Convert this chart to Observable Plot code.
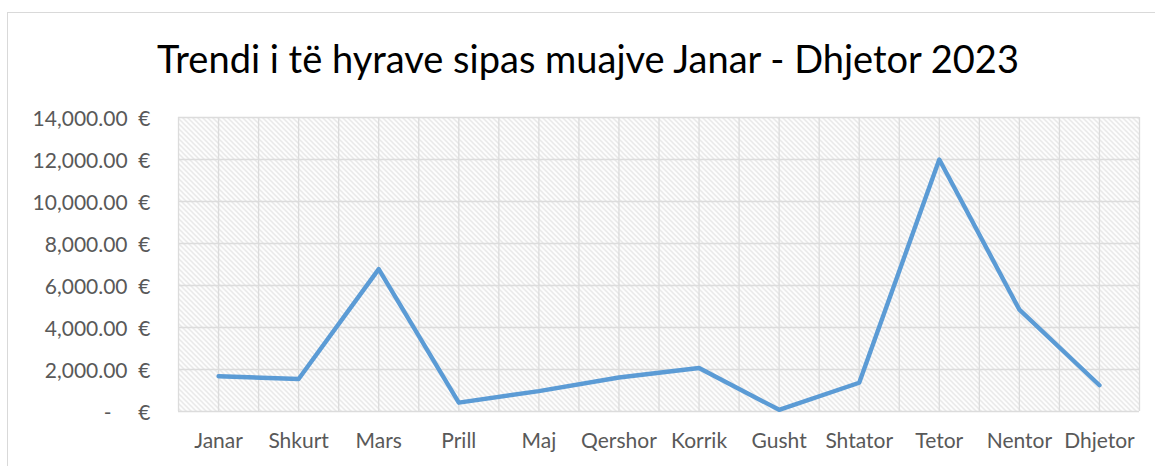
<!DOCTYPE html>
<html>
<head>
<meta charset="utf-8">
<script src="https://cdn.jsdelivr.net/npm/d3@7"></script>
<script src="https://cdn.jsdelivr.net/npm/@observablehq/plot@0.6"></script>
<style>
  html, body { margin: 0; padding: 0; background: #fff; }
  #wrap { position: relative; width: 1155px; height: 466px; overflow: hidden; background: #fff; }
  #frameL { position: absolute; left: 7px; top: 12px; width: 0; height: 480px; border-left: 1.5px solid #d9d9d9; }
  #frameT { position: absolute; left: 7px; top: 12px; width: 1200px; height: 0; border-top: 1.5px solid #d9d9d9; }
  #title { position: absolute; left: 0; top: 33px; width: 1176px; text-align: center;
           font-family: Lato, sans-serif; font-size: 38px; color: #000; line-height: 50px; }
  #chart { position: absolute; left: 0; top: 95px; }
</style>
</head>
<body>
<div id="wrap">
  <div id="frameL"></div>
  <div id="frameT"></div>
  <div id="title">Trendi i të hyrave sipas muajve Janar - Dhjetor 2023</div>
  <div id="chart"></div>
</div>
<script>
const months = ["Janar","Shkurt","Mars","Prill","Maj","Qershor","Korrik","Gusht","Shtator","Tetor","Nentor","Dhjetor"];
const revenue = [1680, 1550, 6780, 420, 970, 1620, 2070, 80, 1370, 12000, 4850, 1250];
const yTicks = [0, 2000, 4000, 6000, 8000, 10000, 12000, 14000];

const data = months.map((m, i) => ({i, month: m, value: revenue[i]}));
const xGrid = d3.range(-0.5, months.length, 0.5);

const fmt = v => v === 0
  ? "-\u00a0\u00a0\u00a0\u00a0\u00a0€"
  : d3.format(",.2f")(v) + "\u00a0\u00a0€";

const plot = Plot.plot({
  width: 1155,
  height: 371,
  marginTop: 22,
  marginBottom: 55,
  marginLeft: 178,
  marginRight: 16,
  style: {fontFamily: "Lato, sans-serif", fontSize: "21px", color: "#595959", background: "transparent"},
  x: {type: "linear", domain: [-0.5, months.length - 0.5], axis: null, label: null},
  y: {domain: [0, 14000], axis: null, label: null},
  marks: [
    Plot.frame({fill: "url(#hatch)", stroke: null}),
    Plot.ruleX(xGrid, {x: d => d, stroke: "#dcdcdc", strokeWidth: 1.3}),
    Plot.ruleY(yTicks, {y: d => d, stroke: "#dcdcdc", strokeWidth: 1.3}),
    Plot.axisY(yTicks, {tickSize: 0, tickPadding: 28, tickFormat: fmt, fontSize: 21, fill: "#595959", label: null, dy: 2}),
    Plot.axisX(d3.range(months.length), {tickSize: 0, tickPadding: 22, tickFormat: i => months[i], fontSize: 21, fill: "#595959", label: null}),
    Plot.line(data, {x: "i", y: "value", stroke: "#5B9BD5", strokeWidth: 4.4, strokeLinejoin: "round", strokeLinecap: "round"})
  ]
});

const svg = d3.select(plot);
const defs = svg.insert("defs", ":first-child");
const pat = defs.append("pattern")
  .attr("id", "hatch")
  .attr("patternUnits", "userSpaceOnUse")
  .attr("width", 5).attr("height", 5);
pat.append("rect").attr("width", 5).attr("height", 5).attr("fill", "#ffffff");
pat.append("path")
  .attr("d", "M0,0 L5,5 M-1,4 L1,6 M4,-1 L6,1")
  .attr("stroke", "#dcdcdc").attr("stroke-width", 1.1);

document.getElementById("chart").appendChild(plot);
</script>
</body>
</html>
